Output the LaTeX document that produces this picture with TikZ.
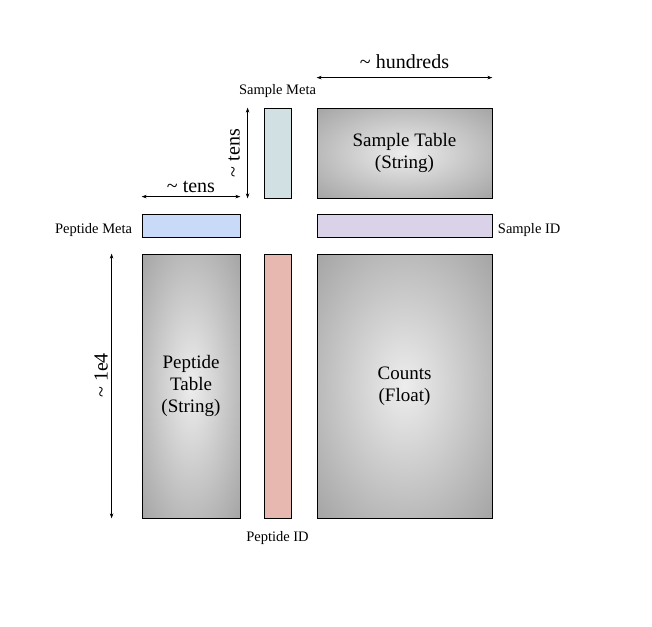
\documentclass[tikz,border=0pt]{standalone}
\usepackage{fontspec}
\setmainfont{Liberation Serif}
\usetikzlibrary{arrows.meta,positioning}
\definecolor{samplemetacol}{HTML}{D0E0E3}
\definecolor{pepmetacol}{HTML}{C9DAF8}
\definecolor{sampleidcol}{HTML}{D9D2E9}
\definecolor{pepidcol}{HTML}{E6B8AF}
\pgfdeclareradialshading{tablefill}{\pgfpoint{0bp}{0bp}}{%
    color(0bp)=(black!7); color(36bp)=(black!36); color(50bp)=(black!36)}
\begin{document}
\begin{tikzpicture}[
        x=1pt, y=1pt,
        node distance=2cm,
        table/.style={draw, line width=0.8pt, shading=tablefill,
            align=center, font=\fontsize{19}{22}\selectfont},
        bar/.style={draw, line width=0.8pt},
        tag/.style={font=\fontsize{14.5}{16}\selectfont},
        span/.style={{Stealth[length=5pt,width=3.5pt]}-{Stealth[length=5pt,width=3.5pt]}, line width=0.7pt},
        spanlabel/.style={font=\fontsize{20}{22}\selectfont}
        ]
        \useasboundingbox (0,0) rectangle (652,-626);

        % the blocks
        \node (sampletable) [table, minimum width=175pt, minimum height=90pt] at (404.5,-153) {Sample Table\\(String)};
        \node (samplemeta) [bar, fill=samplemetacol, minimum width=27pt, minimum height=90pt, left of=sampletable, node distance=127pt] {};
        \node (sampleid) [bar, fill=sampleidcol, minimum width=175pt, minimum height=23pt, below of=sampletable, node distance=72.5pt] {};
        \node (counts) [table, minimum width=175pt, minimum height=264pt, below of=sampleid, node distance=160.5pt] {Counts\\(Float)};
        \node (peptideid) [bar, fill=pepidcol, minimum width=27pt, minimum height=264pt, left of=counts, node distance=127pt] {};
        \node (peptable) [table, minimum width=98pt, minimum height=264pt, left of=peptideid, node distance=86.5pt] {Peptide\\Table\\(String)};
        \node (pepmeta) [bar, fill=pepmetacol, minimum width=98pt, minimum height=23pt, above of=peptable, node distance=160.5pt] {};

        % block names
        \node (samplemetatag) [tag, above=6pt of samplemeta] {Sample Meta};
        \node (pepmetatag) [tag, left=6pt of pepmeta, yshift=-5pt] {Peptide Meta};
        \node (sampleidtag) [tag, right=2pt of sampleid, yshift=-5pt] {Sample ID};
        \node (peptideidtag) [tag, below=9pt of peptideid] {Peptide ID};

        % sizes
        \coordinate (hundredsL) at ([yshift=30pt]sampletable.north west);
        \coordinate (hundredsR) at ([yshift=30pt]sampletable.north east);
        \coordinate (tensL) at ([yshift=17pt]pepmeta.north west);
        \coordinate (tensR) at ([yshift=17pt]pepmeta.north east);
        \coordinate (tensT) at ([xshift=-16pt]samplemeta.north west);
        \coordinate (tensB) at ([xshift=-16pt]samplemeta.south west);
        \coordinate (rowsT) at ([xshift=-30pt]peptable.north west);
        \coordinate (rowsB) at ([xshift=-30pt]peptable.south west);

        \draw[span] (hundredsL) -- node[spanlabel, above=5pt] {\textasciitilde{} hundreds} (hundredsR);
        \draw[span] (tensL) -- node[spanlabel, above=0pt] {\textasciitilde{} tens} (tensR);
        \draw[span] (tensB) -- node[spanlabel, sloped, above=4pt] {\textasciitilde{} tens} (tensT);
        \draw[span] (rowsB) -- node[spanlabel, sloped, above=0pt, pos=0.54] {\textasciitilde{} 1e4} (rowsT);
    \end{tikzpicture}
\end{document}
